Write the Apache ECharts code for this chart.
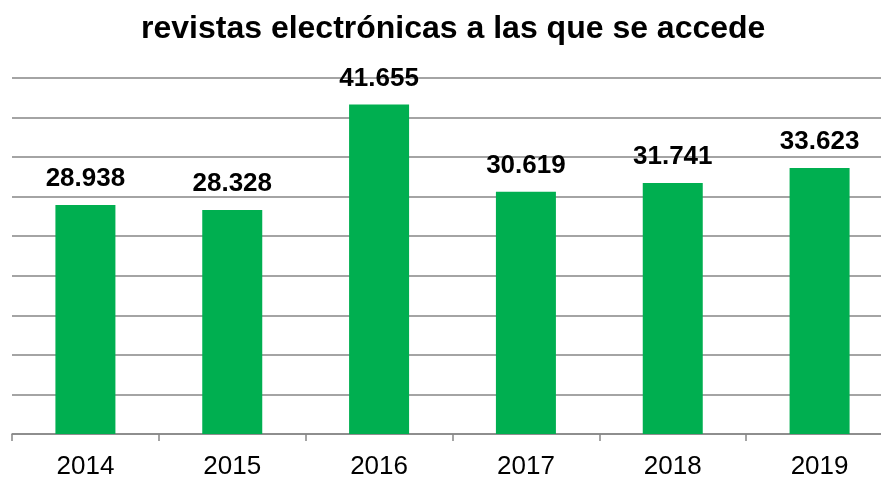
<!DOCTYPE html>
<html>
<head>
<meta charset="utf-8">
<script src="https://cdn.jsdelivr.net/npm/echarts@6/dist/echarts.min.js"></script>
<style>
  html, body { margin: 0; padding: 0; background: #fff; overflow: hidden; }
  #chart { width: 893px; height: 480px; }
</style>
</head>
<body>
<div id="chart"></div>
<script>
// Data
const years = ['2014', '2015', '2016', '2017', '2018', '2019'];
const accesses = [28938, 28328, 41655, 30619, 31741, 33623];
const labelTexts = ['28.938', '28.328', '41.655', '30.619', '31.741', '33.623'];

// the plot runs a little past the right edge of the window, like the original
const chart = echarts.init(document.getElementById('chart'), null, { renderer: 'canvas' });

chart.setOption({
    animation: false,
    backgroundColor: '#ffffff',
    title: {
        text: 'revistas electrónicas a las que se accede',
        left: 136,
        top: 8,
        textStyle: { fontFamily: 'Liberation Sans', fontWeight: 'bold', fontSize: 32, color: '#000' },
    },
    grid: { left: 12, top: 78, right: 0, height: 359 },
    xAxis: {
        type: 'category',
        data: years,
        axisLine: { lineStyle: { color: '#868686', width: 1.5 } },
        axisTick: { show: true, length: 7, lineStyle: { color: '#868686', width: 1.5 } },
        axisLabel: { fontFamily: 'Liberation Sans', fontSize: 26, color: '#000', margin: 20 },
    },
    yAxis: {
        type: 'value',
        min: 0,
        max: 45000,
        interval: 5000,
        axisLabel: { show: false },
        axisLine: { show: false },
        axisTick: { show: false },
        splitLine: { lineStyle: { color: '#868686', width: 1.5 } },
    },
    series: [{
        type: 'bar',
        data: accesses,
        barWidth: 60,
        itemStyle: { color: '#00AF50' },
        label: {
            show: true,
            position: 'top',
            distance: 13,
            formatter: (p) => labelTexts[p.dataIndex],
            fontFamily: 'Liberation Sans',
            fontWeight: 'bold',
            fontSize: 26,
            color: '#000',
        },
    }],
});
</script>
</body>
</html>
